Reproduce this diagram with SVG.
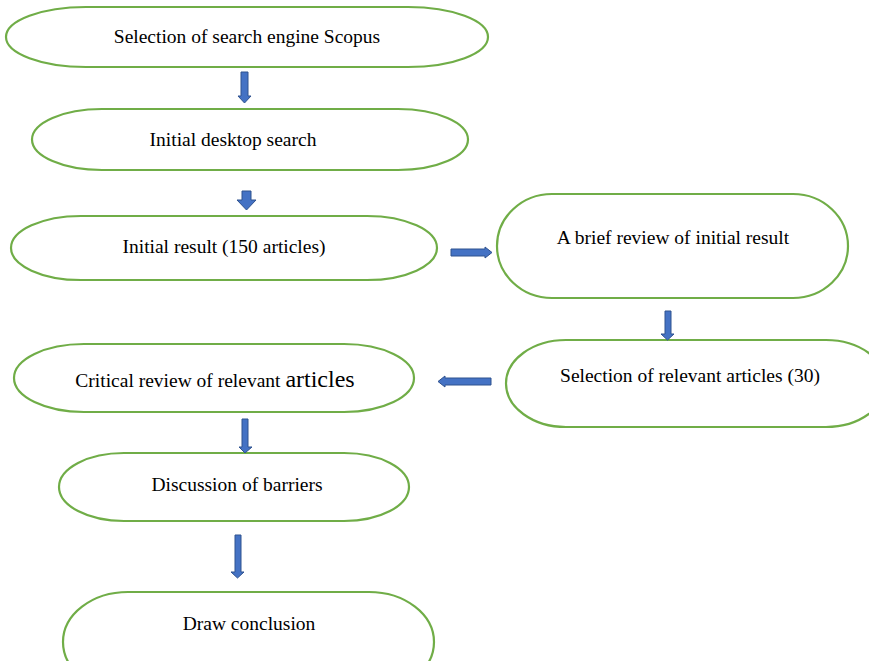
<svg xmlns="http://www.w3.org/2000/svg" width="869" height="661" viewBox="0 0 869 661">
<style>
.n{fill:#fff;stroke:#70AD47;stroke-width:2.2}
.t{font-family:"Liberation Serif","Times New Roman",serif;font-size:19.5px;fill:#000;text-anchor:middle}
.a{fill:#4472C4;stroke:#2F528F;stroke-width:1}
</style>
<rect width="869" height="661" fill="#fff"/>
<g id="n1"><rect class="n" x="6" y="7" width="482" height="60" rx="80" ry="30"/><text class="t" x="247" y="43">Selection of search engine Scopus</text></g>
<g id="n2"><rect class="n" x="32" y="109" width="436" height="61" rx="70" ry="30.5"/><text class="t" x="233" y="146">Initial desktop search</text></g>
<g id="n3"><rect class="n" x="11" y="216" width="426" height="64" rx="70" ry="32"/><text class="t" x="224" y="253">Initial result (150 articles)</text></g>
<g id="n4"><rect class="n" x="497" y="194" width="351" height="104" rx="55" ry="52"/><text class="t" x="673" y="244">A brief review of initial result</text></g>
<g id="n5"><rect class="n" x="506" y="340" width="380" height="87" rx="60" ry="43.5"/><text class="t" x="690" y="382">Selection of relevant articles (30)</text></g>
<g id="n6"><rect class="n" x="14" y="344" width="400" height="68" rx="70" ry="34"/><text class="t" x="215" y="387">Critical review of relevant <tspan style="font-size:24px">articles</tspan></text></g>
<g id="n7"><rect class="n" x="59" y="453" width="350" height="68" rx="65" ry="34"/><text class="t" x="237" y="491">Discussion of barriers</text></g>
<g id="n8"><rect class="n" x="63" y="592" width="371" height="100" rx="65" ry="50"/><text class="t" x="249" y="630">Draw conclusion</text></g>
<g id="connectors">
<polygon class="a" points="241,72 248,72 248,96 251,96 244.5,103 238,96 241,96"/>
<polygon class="a" points="242,191 251,191 251,200 256,200 246.5,210 237,200 242,200"/>
<polygon class="a" points="451,249 485,249 485,247 492,252.5 485,258 485,256 451,256"/>
<polygon class="a" points="665,311 671,311 671,334 674,334 667.5,340 661,334 665,334"/>
<polygon class="a" points="491,378 445,378 445,376 438,381.5 445,387 445,385 491,385"/>
<polygon class="a" points="242,419 248,419 248,447 252,447 245,453 239,447 242,447"/>
<polygon class="a" points="235,535 241,535 241,572 244,572 237.5,578 231,572 235,572"/>
</g>
</svg>
